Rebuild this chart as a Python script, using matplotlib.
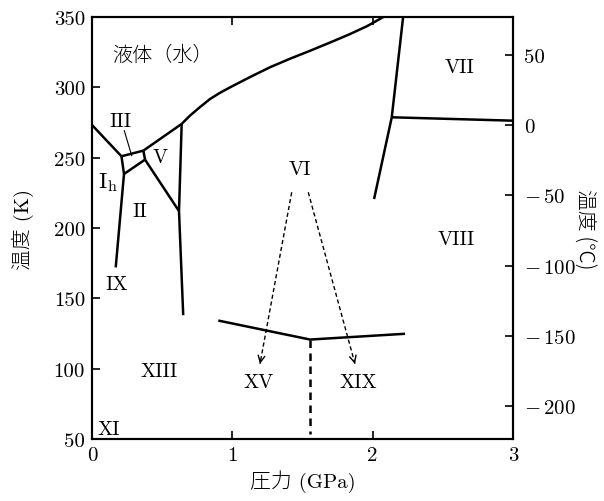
import matplotlib
matplotlib.use("Agg")
import matplotlib.pyplot as plt
import numpy as np

plt.rcParams['font.family'] = ['cmr10', 'Noto Sans CJK JP', 'DejaVu Sans']
plt.rcParams['mathtext.fontset'] = 'cm'
plt.rcParams['axes.formatter.use_mathtext'] = True

# ---- data: phase boundaries (P in GPa, T in K) ----
ih_l_P, ih_l_T = [0.0, 0.21], [273.2, 251.0]
ih_iii_P, ih_iii_T = [0.21, 0.228], [251.0, 238.4]
ih_ix_P, ih_ix_T = [0.228, 0.169], [238.4, 172.0]
iii_ii_P, iii_ii_T = [0.228, 0.378], [238.4, 248.6]
l_iii_P, l_iii_T = [0.21, 0.366], [251.0, 255.0]
iii_v_P, iii_v_T = [0.366, 0.378], [255.0, 248.6]
l_v_P, l_v_T = [0.366, 0.639], [255.0, 274.0]
ii_v_P, ii_v_T = [0.378, 0.62], [248.6, 212.0]
v_vi_P, v_vi_T = [0.639, 0.62], [274.0, 212.0]
ii_vi_P, ii_vi_T = [0.62, 0.65], [212.0, 138.0]
l_vi_P = [0.639, 0.698, 0.77, 0.841, 0.91, 0.984, 1.13, 1.269, 1.41, 1.554,
          1.70, 1.839, 1.96, 2.076]
l_vi_T = [274.0, 279.9, 286.0, 291.7, 296.0, 300.0, 307.5, 314.3, 320.3, 326.0,
          332.0, 337.9, 343.5, 350.0]
vi_vii_P, vi_vii_T = [2.217, 2.136], [350.0, 278.7]
vi_viii_P, vi_viii_T = [2.136, 2.01], [278.7, 220.6]
vii_viii_P, vii_viii_T = [2.136, 3.0], [278.7, 276.3]
xv_P, xv_T = [0.9, 1.554, 2.231], [134.2, 120.7, 124.8]
dash_P, dash_T = [1.554, 1.554], [120.7, 53.6]

arrow_start_P = [1.423, 1.541]
arrow_end_P = [1.197, 1.874]
arrow_start_T = [225.4, 225.4]
arrow_end_T = [103.4, 103.4]

labels = ['VII', 'III', 'V', 'II', 'IX', 'VI', 'VIII',
          'XIII', 'XV', 'XIX', 'XI']
label_P = [2.616, 0.202, 0.485, 0.342, 0.176, 1.482, 2.594,
           0.477, 1.185, 1.898, 0.119]
label_T = [314.2, 276.3, 250.3, 212.3, 160.2, 242.0, 192.2,
           98.4, 90.4, 90.4, 57.2]
ih_label, ih_P, ih_T = r'I$_\mathrm{h}$', 0.116, 233.0

x_ticks = [0, 1, 2, 3]
y_ticks_K = [50, 100, 150, 200, 250, 300, 350]
y_ticks_C = [50, 0, -50, -100, -150, -200]

fig = plt.figure(figsize=(6.04, 5.02), dpi=100)
ax = fig.add_axes([92/604, 1-440/502, (513-92)/604, (440-18)/502])

lw = 1.8
segs = [(ih_l_P, ih_l_T), (ih_iii_P, ih_iii_T), (ih_ix_P, ih_ix_T),
        (iii_ii_P, iii_ii_T), (l_iii_P, l_iii_T), (iii_v_P, iii_v_T),
        (l_v_P, l_v_T), (ii_v_P, ii_v_T), (v_vi_P, v_vi_T),
        (ii_vi_P, ii_vi_T), (l_vi_P, l_vi_T), (vi_vii_P, vi_vii_T),
        (vi_viii_P, vi_viii_T), (vii_viii_P, vii_viii_T), (xv_P, xv_T)]
for P, T in segs:
    ax.plot(P, T, color='black', lw=lw, solid_capstyle='butt',
            solid_joinstyle='round', clip_on=True)
ax.plot(dash_P, dash_T, color='black', lw=lw, ls=(0, (3, 2.2)))

# leader line for III
ax.plot([0.230, 0.283], [269.2, 251.4], color='black', lw=0.8)

# dashed arrows
for sp, st, ep, et in zip(arrow_start_P, arrow_start_T, arrow_end_P, arrow_end_T):
    ax.plot([sp, ep], [st, et], color='black', lw=1.0, ls=(0, (3, 2)))
    dp, dt = ep - sp, et - st
    ax.annotate('', xy=(ep, et), xytext=(ep - 0.02 * dp, et - 0.02 * dt),
                arrowprops=dict(arrowstyle='->', lw=1.0, color='black',
                                mutation_scale=12, shrinkA=0, shrinkB=0))

for s, p, t in zip(labels, label_P, label_T):
    ax.text(p, t, s, fontsize=14.5, ha='center', va='center')
ax.text(ih_P, ih_T, ih_label, fontsize=16.5, ha='center', va='center')

cjk = ['Noto Sans CJK JP']
ax.text(0.505, 323.7, '液体（水）', fontsize=14.5, ha='center', va='center',
        family=cjk, fontweight='light')

ax.set_xlim(0, 3)
ax.set_ylim(50, 350)
ax.set_xticks(x_ticks)
ax.set_xticklabels([str(v) for v in x_ticks])
ax.set_yticks(y_ticks_K)
ax.set_yticklabels([str(v) for v in y_ticks_K])
ax.tick_params(axis='both', direction='in', length=6, width=1.2,
               labelsize=15, pad=5)
ax.tick_params(axis='x', top=True, pad=5)
for sp in ax.spines.values():
    sp.set_linewidth(1.5)

lab_font = ['cmr10', 'Noto Sans CJK JP']
ax.set_xlabel('圧力 (GPa)', fontsize=15, family=lab_font, labelpad=4,
              fontweight='light')
ax.set_ylabel('温度 (K)', fontsize=15, family=lab_font, labelpad=14,
              fontweight='light')

ax2 = ax.twinx()
ax2.set_ylim(50 - 273.15, 350 - 273.15)
ax2.set_yticks(y_ticks_C)
ax2.set_yticklabels([str(v) if v >= 0 else r'$-\,%d$' % (-v) for v in y_ticks_C])
ax2.tick_params(axis='y', direction='in', length=6, width=1.2, labelsize=15, pad=8)
for sp in ax2.spines.values():
    sp.set_linewidth(1.5)
ax2.set_ylabel('温度 (℃)', fontsize=15, family=cjk, fontweight='light',
               rotation=270, labelpad=14)

fig.savefig('out.png', dpi=100)
